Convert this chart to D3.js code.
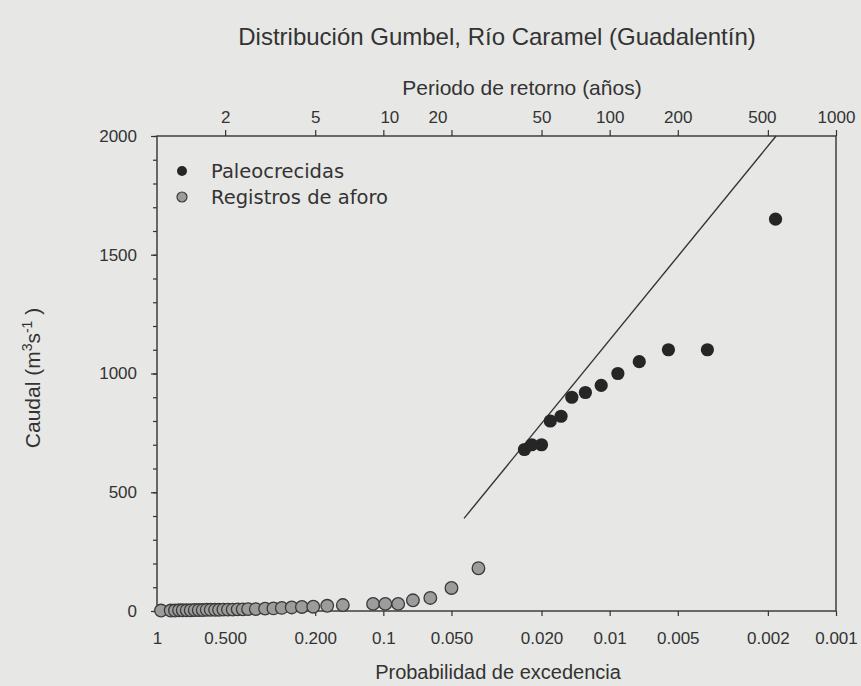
<!DOCTYPE html>
<html><head><meta charset="utf-8">
<script src="https://cdn.jsdelivr.net/npm/d3@7"></script>
<style>body{margin:0;background:#e7e7e5}</style></head><body>
<script>
// ---- data ----
const bottomTickValues = [1, 0.5, 0.2, 0.1, 0.05, 0.02, 0.01, 0.005, 0.002, 0.001];
const bottomTickLabels = ["1", "0.500", "0.200", "0.1", "0.050", "0.020", "0.01", "0.005", "0.002", "0.001"];
const topTickValues = [2, 5, 10, 20, 50, 100, 200, 500, 1000];
const yMajorTicks = [0, 500, 1000, 1500, 2000];

// Registros de aforo (gauge records): exceedance probability, discharge
const gaugeP = [0.96, 0.87, 0.833, 0.799, 0.77, 0.739, 0.71, 0.681, 0.654, 0.628, 0.603, 0.579, 0.554, 0.532, 0.509, 0.486, 0.463, 0.44, 0.418, 0.396, 0.366, 0.333, 0.306, 0.281, 0.254, 0.229, 0.204, 0.177, 0.151, 0.111, 0.098, 0.086, 0.074, 0.062, 0.05, 0.038];
const gaugeQ = [2, 2, 2, 3, 3, 3, 3, 4, 4, 4, 5, 5, 5, 5, 6, 6, 6, 7, 7, 8, 8, 10, 11, 13, 15, 17, 18, 22, 25, 30, 30, 30, 45, 55, 97, 180];

// Paleocrecidas (palaeofloods)
const paleoP = [0.0238, 0.0221, 0.0200, 0.0183, 0.0164, 0.0147, 0.0128, 0.0109, 0.0092, 0.0074, 0.0055, 0.0037, 0.00185];
const paleoQ = [680, 700, 700, 800, 820, 900, 920, 950, 1000, 1050, 1100, 1100, 1650];

// fitted Gumbel line end points
const fitP = [0.044, 0.00184];
const fitQ = [390, 2000];

// ---- chart ----
const W = 861, H = 686;
const L = 157, R = 836, T = 136, B = 611;
const FONT = "'Liberation Sans', Arial, sans-serif";
const TXT = "#333";
// small horizontal nudges of some top labels, as printed in the original
const topLabelShift = { 10: 6, 20: -14, 500: -6 };

const svg = d3.select("body").append("svg").attr("width", W).attr("height", H)
  .style("font-family", FONT);
svg.append("rect").attr("width", W).attr("height", H).attr("fill", "#e7e7e5");

const x = d3.scaleLog().domain([1, 0.001]).range([L, R]);
const xTop = d3.scaleLog().domain([1, 1000]).range([L, R]);
const y = d3.scaleLinear().domain([0, 2000]).range([B, T]);

function styleAxis(g) {
  g.select(".domain").remove();
  g.selectAll("line").attr("stroke", "#333").attr("stroke-width", 1.2);
  g.selectAll("text").attr("fill", TXT).style("font-size", "17px").style("font-family", FONT);
}

// bottom axis
svg.append("g").attr("transform", `translate(0,${B})`)
  .call(d3.axisBottom(x).tickValues(bottomTickValues)
    .tickFormat((d, i) => bottomTickLabels[i]).tickSize(5).tickPadding(16).tickSizeOuter(0))
  .call(styleAxis);

// top axis
const topAx = svg.append("g").attr("transform", `translate(0,${T})`)
  .call(d3.axisTop(xTop).tickValues(topTickValues)
    .tickFormat(d3.format("d")).tickSize(6).tickPadding(7).tickSizeOuter(0))
  .call(styleAxis);
topAx.selectAll(".tick text").attr("dx", d => topLabelShift[d] || 0);

// left axis (minor)
svg.append("g").attr("transform", `translate(${L},0)`)
  .call(d3.axisLeft(y).tickValues(d3.range(0, 2001, 100)).tickFormat("").tickSize(4).tickSizeOuter(0))
  .call(styleAxis);
// left axis (major)
svg.append("g").attr("transform", `translate(${L},0)`)
  .call(d3.axisLeft(y).tickValues(yMajorTicks).tickFormat(d3.format("d")).tickSize(6).tickPadding(14).tickSizeOuter(0))
  .call(styleAxis);

// frame
svg.append("rect").attr("x", L).attr("y", T).attr("width", R - L).attr("height", B - T)
  .attr("fill", "none").attr("stroke", "#333").attr("stroke-width", 1.4);

// fit line
svg.append("line")
  .attr("x1", x(fitP[0])).attr("y1", y(fitQ[0]))
  .attr("x2", x(fitP[1])).attr("y2", y(fitQ[1]))
  .attr("stroke", "#333").attr("stroke-width", 1.4);

// gauge points
svg.append("g").selectAll("circle").data(gaugeP).join("circle")
  .attr("cx", d => x(d)).attr("cy", (d, i) => y(gaugeQ[i])).attr("r", 6.3)
  .attr("fill", "#9c9c9c").attr("stroke", "#3a3a3a").attr("stroke-width", 1.3);

// paleo points
svg.append("g").selectAll("circle").data(paleoP).join("circle")
  .attr("cx", d => x(d)).attr("cy", (d, i) => y(paleoQ[i])).attr("r", 6.6)
  .attr("fill", "#262626");

// legend
const legend = [
  { label: "Paleocrecidas", fill: "#262626", stroke: "none" },
  { label: "Registros de aforo", fill: "#9c9c9c", stroke: "#3a3a3a" }
];
const lg = svg.append("g");
legend.forEach((d, i) => {
  const cy = 171 + i * 26;
  lg.append("circle").attr("cx", 182).attr("cy", cy).attr("r", 5)
    .attr("fill", d.fill).attr("stroke", d.stroke).attr("stroke-width", 1.2);
  lg.append("text").attr("x", 211).attr("y", cy + 6.5).text(d.label)
    .attr("fill", TXT).style("font-size", "19.5px").style("font-family", "'DejaVu Sans', sans-serif");
});

// titles
svg.append("text").attr("x", 497).attr("y", 45).attr("text-anchor", "middle")
  .attr("fill", TXT).style("font-size", "24px").text("Distribución Gumbel, Río Caramel (Guadalentín)");
svg.append("text").attr("x", 522).attr("y", 95).attr("text-anchor", "middle")
  .attr("fill", TXT).style("font-size", "21px").text("Periodo de retorno (años)");
svg.append("text").attr("x", 498).attr("y", 679).attr("text-anchor", "middle")
  .attr("fill", TXT).style("font-size", "20px").text("Probabilidad de excedencia");

const yl = svg.append("text").attr("transform", "translate(40,378) rotate(-90)")
  .attr("text-anchor", "middle").attr("fill", TXT).style("font-size", "21px");
yl.append("tspan").text("Caudal (m");
yl.append("tspan").attr("baseline-shift", "super").style("font-size", "14px").text("3");
yl.append("tspan").text("s");
yl.append("tspan").attr("baseline-shift", "super").style("font-size", "14px").text("-1");
yl.append("tspan").text(" )");
</script>
</body></html>
